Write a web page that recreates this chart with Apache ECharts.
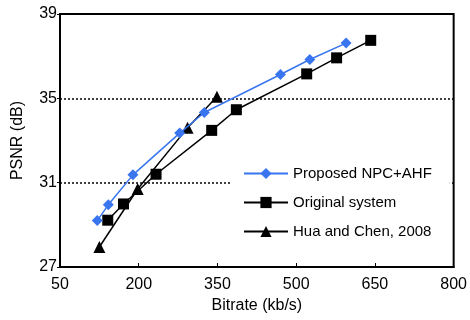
<!DOCTYPE html>
<html><head><meta charset="utf-8">
<script src="https://cdn.jsdelivr.net/npm/echarts@6/dist/echarts.min.js"></script>
<style>html,body{margin:0;padding:0;background:#fff}#c{width:470px;height:320px}</style>
</head><body><div id="c"></div>
<script>
const seriesNames = ['Proposed NPC+AHF', 'Original system', 'Hua and Chen, 2008'];
const proposedX = [121, 142, 189, 278, 325, 470, 526, 595];
const proposedY = [29.2, 29.95, 31.37, 33.35, 34.33, 36.13, 36.84, 37.62];
const originalX = [141, 171, 233, 339, 386, 520, 577, 642];
const originalY = [29.22, 29.99, 31.4, 33.48, 34.46, 36.16, 36.92, 37.75];
const huaX = [125, 198, 293, 349];
const huaY = [27.95, 30.7, 33.6, 35.07];
const xTicks = [50, 200, 350, 500, 650, 800];
const yTicks = [27, 31, 35, 39];
const refLines = [31, 35];

const zip = (xs, ys) => xs.map((x, i) => [x, ys[i]]);
const font = 'Liberation Sans, Arial, sans-serif';
const chart = echarts.init(document.getElementById('c'), null, {renderer: 'canvas'});
chart.setOption({
  animation: false,
  backgroundColor: '#fff',
  grid: {left: 60, right: 13, top: 14, bottom: 53, show: true, borderColor: '#000', borderWidth: 2, backgroundColor: 'transparent'},
  legend: {
    orient: 'vertical', left: 232, top: 160, z: 20,
    backgroundColor: '#fff', padding: [6, 18, 6, 11],
    itemWidth: 44, itemHeight: 14, itemGap: 14,
    textStyle: {fontFamily: font, fontSize: 15, color: '#000'},
    data: seriesNames
  },
  xAxis: {
    type: 'value', min: xTicks[0], max: xTicks[xTicks.length - 1], interval: 150,
    name: 'Bitrate (kb/s)', nameLocation: 'middle', nameGap: 30,
    nameTextStyle: {fontFamily: font, fontSize: 16, color: '#000'},
    axisLine: {show: true, lineStyle: {color: '#000', width: 2}},
    axisTick: {show: true, inside: true, length: 4, lineStyle: {color: '#000', width: 1}},
    axisLabel: {fontFamily: font, fontSize: 16, color: '#000', margin: 10},
    splitLine: {show: false}
  },
  yAxis: {
    type: 'value', min: yTicks[0], max: yTicks[yTicks.length - 1], interval: 4,
    name: 'PSNR (dB)', nameLocation: 'middle', nameGap: 34,
    nameTextStyle: {fontFamily: font, fontSize: 16, color: '#000'},
    axisLine: {show: true, lineStyle: {color: '#000', width: 2}},
    axisTick: {show: true, inside: false, length: 3, lineStyle: {color: '#000', width: 1}},
    axisLabel: {fontFamily: font, fontSize: 16, color: '#000', margin: 3},
    splitLine: {show: false}
  },
  series: [
    {
      name: seriesNames[0], type: 'line', data: zip(proposedX, proposedY), z: 5,
      symbol: 'diamond', symbolSize: 11,
      lineStyle: {color: '#3a75f0', width: 1.5}, itemStyle: {color: '#3a75f0'},
      markLine: {
        silent: true, symbol: 'none', label: {show: false},
        lineStyle: {color: '#000', type: [2, 2], width: 1.5},
        data: refLines.map(v => ({yAxis: v}))
      }
    },
    {
      name: seriesNames[1], type: 'line', data: zip(originalX, originalY), z: 4,
      symbol: 'rect', symbolSize: 11,
      lineStyle: {color: '#000', width: 1.5}, itemStyle: {color: '#000'}
    },
    {
      name: seriesNames[2], type: 'line', data: zip(huaX, huaY), z: 3,
      symbol: 'triangle', symbolSize: 12,
      lineStyle: {color: '#000', width: 1.5}, itemStyle: {color: '#000'}
    }
  ]
});
</script></body></html>
